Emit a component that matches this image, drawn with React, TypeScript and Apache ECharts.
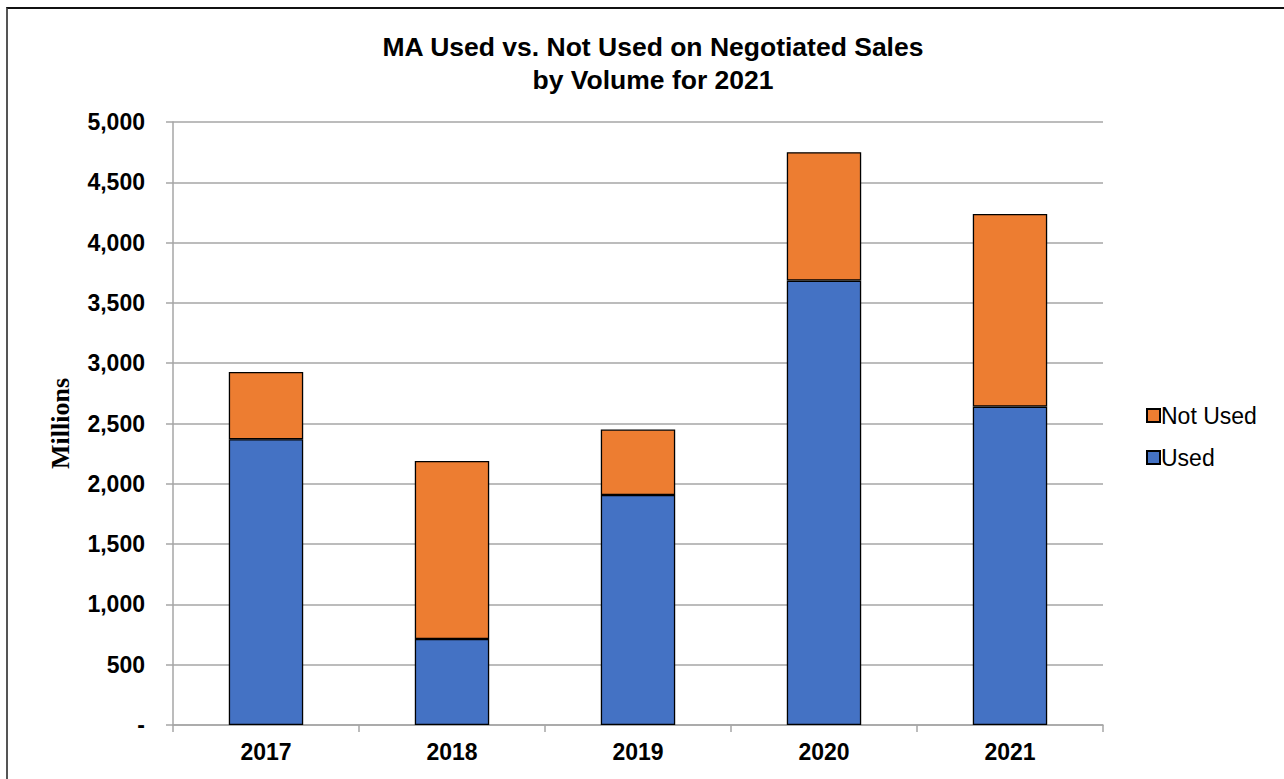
import React, { useEffect, useRef } from "react";
import * as echarts from "echarts";

const categories = ["2017", "2018", "2019", "2020", "2021"];
const usedValues = [2370, 713, 1907, 3685, 2640];
const totalValues = [2927, 2190, 2450, 4750, 4237];
const notUsedValues = totalValues.map((t, i) => t - usedValues[i]);
const titleLines = ["MA Used vs. Not Used on Negotiated Sales", "by Volume for 2021"];

export default function App() {
  const ref = useRef<HTMLDivElement>(null);
  useEffect(() => {
    if (!ref.current) return;
    const chart = echarts.init(ref.current, null, { renderer: "svg" });
    const font = "Arial, 'Liberation Sans', sans-serif";
    chart.setOption({
      animation: false,
      backgroundColor: "#ffffff",
      title: {
        text: titleLines.join("\n"),
        left: 648,
        textAlign: "center",
        top: 25,
        textStyle: { fontFamily: font, fontWeight: "bold", fontSize: 26.5, lineHeight: 33, color: "#000" },
      },
      legend: {
        orient: "vertical",
        left: 1141,
        top: 399,
        itemGap: 19,
        itemWidth: 13,
        itemHeight: 13,
        data: [
          { name: "Not Used", icon: "rect" },
          { name: "Used", icon: "rect" },
        ],
        textStyle: { fontFamily: font, fontSize: 23, color: "#000", padding: [0, 0, 0, -4] },
      },
      grid: { left: 173, right: 181, top: 122, bottom: 54, containLabel: false },
      xAxis: {
        type: "category",
        data: categories,
        boundaryGap: true,
        axisLine: { lineStyle: { color: "#a6a6a6", width: 1.5 } },
        axisTick: { show: true, length: 7, lineStyle: { color: "#a6a6a6", width: 1.5 } },
        axisLabel: { margin: 15, fontFamily: font, fontWeight: "bold", fontSize: 23, color: "#000" },
      },
      yAxis: {
        type: "value",
        min: 0,
        max: 5000,
        interval: 500,
        name: "Millions",
        nameLocation: "middle",
        nameRotate: 90,
        nameGap: 100,
        nameTextStyle: { fontFamily: "'Liberation Serif', 'Times New Roman', serif", fontWeight: "bold", fontSize: 26, color: "#000" },
        axisLine: { show: true, lineStyle: { color: "#a6a6a6", width: 1.5 } },
        axisTick: { show: true, length: 7, lineStyle: { color: "#a6a6a6", width: 1.5 } },
        splitLine: { show: true, lineStyle: { color: "#a6a6a6", width: 1.5 } },
        axisLabel: {
          margin: 28,
          fontFamily: font,
          fontWeight: "bold",
          fontSize: 23,
          color: "#000",
          formatter: (v: number) => (v === 0 ? "-" : v.toLocaleString("en-US")),
        },
      },
      series: [
        {
          name: "Used",
          type: "bar",
          stack: "total",
          barWidth: "40%",
          data: usedValues,
          itemStyle: { color: "#4472c4", borderColor: "#000", borderWidth: 1.3 },
        },
        {
          name: "Not Used",
          type: "bar",
          stack: "total",
          barWidth: "40%",
          data: notUsedValues,
          itemStyle: { color: "#ed7d31", borderColor: "#000", borderWidth: 1.3 },
        },
      ],
    });
    return () => chart.dispose();
  }, []);
  return (
    <>
      <div ref={ref} style={{ position: "fixed", left: 0, top: 0, width: 1284, height: 779 }} />
      <div
        style={{
          position: "fixed",
          left: 6,
          top: 7,
          width: 1400,
          height: 900,
          borderLeft: "2px solid #555",
          borderTop: "2px solid #111",
          pointerEvents: "none",
        }}
      />
    </>
  );
}
